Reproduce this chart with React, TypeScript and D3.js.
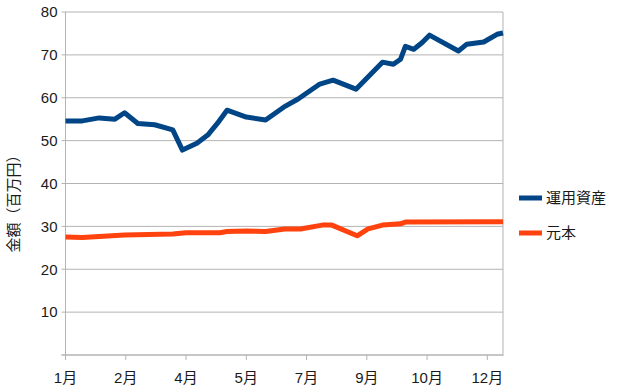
import React, { useEffect, useRef } from 'react';
import * as d3 from 'd3';

// 日付（2019年）
const dates = [
  '2019-01-01', '2019-01-15', '2019-01-29', '2019-02-11', '2019-02-19', '2019-03-02',
  '2019-03-16', '2019-03-31', '2019-04-08', '2019-04-20', '2019-04-29', '2019-05-07',
  '2019-05-15', '2019-05-31', '2019-06-16', '2019-07-01', '2019-07-13', '2019-07-31',
  '2019-08-11', '2019-08-30', '2019-09-21', '2019-09-30', '2019-10-06', '2019-10-10',
  '2019-10-17', '2019-10-24', '2019-10-30', '2019-11-23', '2019-11-30', '2019-12-14',
  '2019-12-25', '2019-12-30',
];

// 運用資産（百万円）
const assets = [
  54.6, 54.6, 55.3, 55.0, 56.5, 54.0, 53.7, 52.5, 47.8, 49.4, 51.3, 54.0,
  57.1, 55.5, 54.8, 57.8, 59.7, 63.2, 64.1, 62.0, 68.3, 67.8, 69.0, 72.0,
  71.3, 72.9, 74.6, 70.9, 72.5, 73.0, 74.8, 75.1,
];

// 元本の日付
const principalDates = [
  '2019-01-01', '2019-01-15', '2019-02-19', '2019-03-31', '2019-04-11', '2019-05-09',
  '2019-05-15', '2019-05-31', '2019-06-16', '2019-07-02', '2019-07-15', '2019-08-02',
  '2019-08-10', '2019-08-31', '2019-09-09', '2019-09-21', '2019-10-06', '2019-10-10',
  '2019-12-30',
];

// 元本（百万円）
const principal = [
  27.5, 27.4, 28.0, 28.2, 28.5, 28.5, 28.8, 28.9, 28.8, 29.4, 29.4, 30.3,
  30.3, 27.8, 29.4, 30.3, 30.6, 31.0, 31.1,
];

const seriesNames = ['運用資産', '元本'];
const seriesColors = ['#004586', '#ff420e'];
const yTicks = [10, 20, 30, 40, 50, 60, 70, 80];

const FONT = '"Liberation Sans", "Noto Sans CJK JP", sans-serif';

const App = () => {
  const svgRef = useRef<SVGSVGElement>(null);

  useEffect(() => {
    const width = 619;
    const height = 391;
    const m = { left: 65.5, right: 503, top: 12, bottom: 355 };

    const svg = d3.select(svgRef.current);
    svg.selectAll('*').remove();
    svg.attr('width', width).attr('height', height);

    const parse = d3.timeParse('%Y-%m-%d');
    const xs = dates.map(d => parse(d) as Date);
    const pxs = principalDates.map(d => parse(d) as Date);
    const start = xs[0];
    const end = xs[xs.length - 1];

    const x = d3.scaleTime().domain([start, end]).range([m.left, m.right]);
    const y = d3.scaleLinear().domain([0, 80]).range([m.bottom, m.top]);

    // 50日ごとの目盛り
    const xTicks = d3.range(0, 351, 50).map(n => d3.timeDay.offset(start, n));

    const grid = '#b3b3b3';

    // グリッド線
    svg.append('g')
      .selectAll('line')
      .data(yTicks)
      .enter()
      .append('line')
      .attr('x1', m.left - 4)
      .attr('x2', m.right)
      .attr('y1', d => y(d))
      .attr('y2', d => y(d))
      .attr('stroke', grid)
      .attr('stroke-width', 1);

    // 軸線
    svg.append('line')
      .attr('x1', m.left).attr('x2', m.left)
      .attr('y1', m.top).attr('y2', m.bottom + 1)
      .attr('stroke', grid);
    svg.append('line')
      .attr('x1', m.right).attr('x2', m.right)
      .attr('y1', m.top).attr('y2', m.bottom + 1)
      .attr('stroke', grid);
    svg.append('line')
      .attr('x1', m.left - 4).attr('x2', m.right)
      .attr('y1', m.bottom).attr('y2', m.bottom)
      .attr('stroke', grid)
      .attr('stroke-width', 1.5);

    // x目盛り
    svg.append('g')
      .selectAll('line')
      .data(xTicks)
      .enter()
      .append('line')
      .attr('x1', d => x(d))
      .attr('x2', d => x(d))
      .attr('y1', m.bottom)
      .attr('y2', m.bottom + 5)
      .attr('stroke', grid);

    // y ラベル
    svg.append('g')
      .selectAll('text')
      .data(yTicks)
      .enter()
      .append('text')
      .attr('x', m.left - 8)
      .attr('y', d => y(d))
      .attr('dy', '0.35em')
      .attr('text-anchor', 'end')
      .style('font-family', FONT)
      .style('font-size', '15px')
      .style('fill', '#1a1a1a')
      .text(d => d);

    // x ラベル
    svg.append('g')
      .selectAll('text')
      .data(xTicks)
      .enter()
      .append('text')
      .attr('x', d => x(d))
      .attr('y', 383)
      .attr('text-anchor', 'middle')
      .style('font-family', FONT)
      .style('font-size', '15px')
      .style('fill', '#1a1a1a')
      .text(d => `${d.getMonth() + 1}月`);

    // 軸タイトル
    svg.append('text')
      .attr('transform', `translate(19,200) rotate(-90)`)
      .attr('text-anchor', 'middle')
      .style('font-family', FONT)
      .style('font-size', '15px')
      .style('fill', '#1a1a1a')
      .text('金額（百万円）');

    // 折れ線
    const lineFor = (ds: Date[]) => d3.line<number>()
      .x((_, i) => x(ds[i]))
      .y(d => y(d));

    [[assets, xs], [principal, pxs]].forEach(([vals, ds], k) => {
      svg.append('path')
        .attr('d', lineFor(ds as Date[])(vals as number[]))
        .attr('fill', 'none')
        .attr('stroke', seriesColors[k])
        .attr('stroke-width', 5)
        .attr('stroke-linejoin', 'round');
    });

    // 凡例
    const legend = svg.append('g');
    seriesNames.forEach((name, k) => {
      const ly = 198 + k * 35;
      legend.append('line')
        .attr('x1', 519).attr('x2', 542)
        .attr('y1', ly).attr('y2', ly)
        .attr('stroke', seriesColors[k])
        .attr('stroke-width', 5);
      legend.append('text')
        .attr('x', 546)
        .attr('y', ly)
        .attr('dy', '0.35em')
        .style('font-family', FONT)
        .style('font-size', '15px')
        .style('fill', '#1a1a1a')
        .text(name);
    });
  }, []);

  return (
    <svg ref={svgRef} style={{ position: 'absolute', left: 0, top: 0 }}></svg>
  );
};

export default App;
